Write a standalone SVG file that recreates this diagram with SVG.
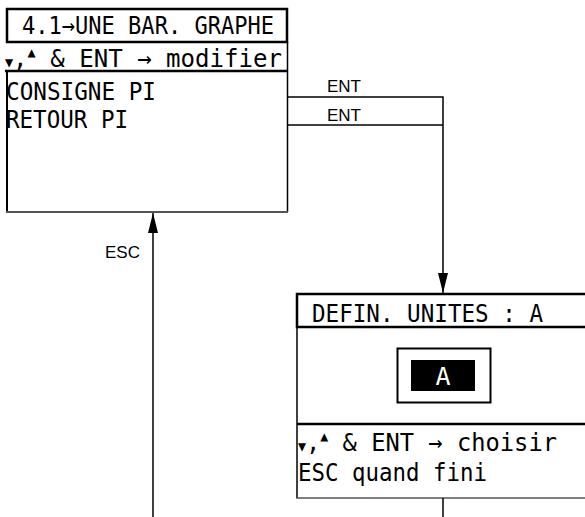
<svg xmlns="http://www.w3.org/2000/svg" width="585" height="517" viewBox="0 0 585 517">
<style>
.lcd{font-family:"DejaVu Sans Mono","Liberation Mono",monospace;font-size:25px;fill:#000}
.lbl{font-family:"Liberation Sans",Arial,sans-serif;font-size:17px;fill:#000}
.thick{fill:none;stroke:#000;stroke-width:2.5}
.conn{fill:none;stroke:#000;stroke-width:1.5}
</style>
<defs>
<marker id="ah" markerWidth="20" markerHeight="10" refX="20" refY="5" orient="auto" markerUnits="userSpaceOnUse" viewBox="0 0 20 10">
<path d="M0,0 L20,5 L0,10 Z" fill="#000"/>
</marker>
</defs>
<g id="screen1">
<rect class="thick" x="7" y="9" width="280" height="33"/>
<text class="lcd" x="22" y="34" textLength="252" lengthAdjust="spacingAndGlyphs">4.1→UNE BAR. GRAPHE</text>
<text class="lcd" x="5" y="67" textLength="277" lengthAdjust="spacingAndGlyphs"><tspan font-size="14">▼</tspan>,<tspan font-size="14" dy="-10">▲</tspan><tspan dy="10"> &amp; ENT → modifier</tspan></text>
<line x1="5" y1="71" x2="288" y2="71" stroke="#000" stroke-width="2.5"/>
<line x1="7" y1="71" x2="7" y2="212" stroke="#000" stroke-width="2"/>
<line x1="287.5" y1="42" x2="287.5" y2="212" stroke="#000" stroke-width="1.5"/>
<line x1="6" y1="212" x2="288" y2="212" stroke="#555" stroke-width="2"/>
<text class="lcd" x="6" y="100" textLength="150" lengthAdjust="spacingAndGlyphs">CONSIGNE PI</text>
<text class="lcd" x="6" y="128" textLength="122" lengthAdjust="spacingAndGlyphs">RETOUR PI</text>
</g>
<g id="screen2">
<rect class="thick" x="297" y="294" width="295" height="33"/>
<text class="lcd" x="312" y="322" textLength="231" lengthAdjust="spacingAndGlyphs">DEFIN. UNITES : A</text>
<line x1="297" y1="327" x2="297" y2="498" stroke="#000" stroke-width="1.5"/>
<line x1="296" y1="498" x2="585" y2="498" stroke="#555" stroke-width="1.5"/>
<rect x="397.5" y="348.5" width="93" height="54" fill="none" stroke="#000" stroke-width="2"/>
<rect x="411" y="360" width="64" height="31" fill="#000"/>
<text class="lcd" x="443" y="385" text-anchor="middle" style="fill:#fff">A</text>
<line x1="297" y1="424" x2="585" y2="424" stroke="#000" stroke-width="2.5"/>
<text class="lcd" x="298" y="451" textLength="259" lengthAdjust="spacingAndGlyphs"><tspan font-size="14">▼</tspan>,<tspan font-size="14" dy="-10">▲</tspan><tspan dy="10"> &amp; ENT → choisir</tspan></text>
<text class="lcd" x="298" y="481" textLength="189" lengthAdjust="spacingAndGlyphs">ESC quand fini</text>
</g>
<g id="connectors">
<polyline class="conn" points="288,97 443,97 443,293" marker-end="url(#ah)"/>
<line class="conn" x1="288" y1="125" x2="443" y2="125"/>
<line class="conn" x1="443" y1="498" x2="443" y2="517"/>
<line class="conn" x1="153" y1="517" x2="153" y2="213" marker-end="url(#ah)"/>
<text class="lbl" x="327" y="92">ENT</text>
<text class="lbl" x="327" y="121">ENT</text>
<text class="lbl" x="105" y="258">ESC</text>
</g>
</svg>
